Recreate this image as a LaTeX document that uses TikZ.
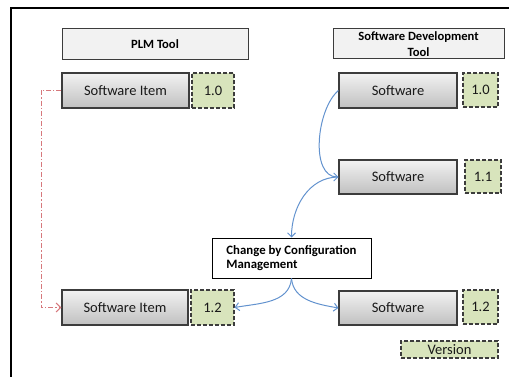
\documentclass[tikz,border=0pt]{standalone}
\usepackage{fontspec}
\setmainfont{Carlito}
\usetikzlibrary{arrows.meta,shadows}
\definecolor{bord}{RGB}{60,60,60}
\definecolor{txt}{RGB}{25,25,25}
\definecolor{hdrfill}{RGB}{242,242,242}
\definecolor{gtop}{RGB}{242,242,242}
\definecolor{gbot}{RGB}{192,192,192}
\definecolor{vfill}{RGB}{216,228,188}
\definecolor{flow}{RGB}{98,146,206}
\definecolor{trace}{RGB}{214,120,124}
\tikzset{
  hdr/.style={draw=bord, fill=hdrfill, line width=1pt, text=black,
    font=\bfseries\fontsize{12.6}{15.5}\selectfont, align=center, inner sep=0pt},
  item/.style={draw=bord, line width=1.1pt, top color=gtop, bottom color=gbot,
    drop shadow={shadow xshift=1.2pt, shadow yshift=-1.2pt, opacity=0.25},
    text=txt, font=\fontsize{14.5}{17}\selectfont, inner sep=0pt},
  ver/.style={draw=bord, line width=1.1pt, dash pattern=on 4pt off 2pt, fill=vfill,
    text=txt, font=\fontsize{14.5}{17}\selectfont, inner sep=0pt},
  chg/.style={draw=black, fill=white, line width=1pt, text=black,
    font=\bfseries\fontsize{12.8}{14.5}\selectfont, align=left, inner sep=0pt},
  flowline/.style={draw=flow, line width=1pt, -{Straight Barb[length=4pt,width=8pt]}},
  traceline/.style={draw=trace, line width=1pt, dash pattern=on 5pt off 2pt on 1.2pt off 2pt,
    -{Straight Barb[length=4.5pt,width=9pt,line width=1.2pt]}}
}
\begin{document}
\begin{tikzpicture}[x=1pt,y=1pt]
\useasboundingbox (0,0) rectangle (509,-377);
% frame
\coordinate (fb) at (11,-377);
\coordinate (fc) at (11,-8);
\coordinate (fr) at (509,-8);
\draw[line width=1.6pt, black] (fb) -- (fc) -- (fr);
% headers
\node[hdr, minimum width=186pt, minimum height=31pt] (plm) at (155,-44.5) {PLM Tool};
\node[hdr, minimum width=171pt, minimum height=30pt] (sdt) at (418.5,-44) {Software Development\\Tool};
% left column
\node[item, minimum width=127pt, minimum height=35pt] (si1) at (125.5,-90.5) {Software Item};
\node[ver, minimum width=42pt, minimum height=35pt] (v10l) at (213,-90.5) {1.0};
\node[item, minimum width=126pt, minimum height=35pt] (si2) at (125,-307.5) {Software Item};
\node[ver, minimum width=43pt, minimum height=35pt] (v12l) at (212.5,-307.5) {1.2};
% right column
\node[item, minimum width=118pt, minimum height=35pt] (sw1) at (398,-90.5) {Software};
\node[ver, minimum width=35pt, minimum height=34pt] (v10r) at (480.5,-90) {1.0};
\node[item, minimum width=118pt, minimum height=34pt] (sw2) at (398,-177) {Software};
\node[ver, minimum width=36pt, minimum height=33pt] (v11) at (483,-176.5) {1.1};
\node[item, minimum width=118pt, minimum height=34pt] (sw3) at (398,-308) {Software};
\node[ver, minimum width=35pt, minimum height=34pt] (v12r) at (480.5,-307) {1.2};
\node[ver, minimum width=97pt, minimum height=17pt] (ver) at (449.5,-349.5) {Version};
% change box
\node[chg, minimum width=159pt, minimum height=40pt] (cm) at (291.5,-258) {Change by Configuration\\Management};
% connectors
\draw[flowline] (sw1.west) to[out=220,in=180,looseness=0.85] (sw2.west);
\draw[flowline] (sw2.west) to[out=180,in=90] (cm.north);
\draw[flowline] (cm.south) to[out=265,in=10] (v12l.east);
\draw[flowline] (cm.south) to[out=275,in=170] (sw3.west);
\coordinate (rc) at (41,-90.5);
\draw[traceline] (si1.west) -- (rc) |- (si2.west);
\end{tikzpicture}
\end{document}
